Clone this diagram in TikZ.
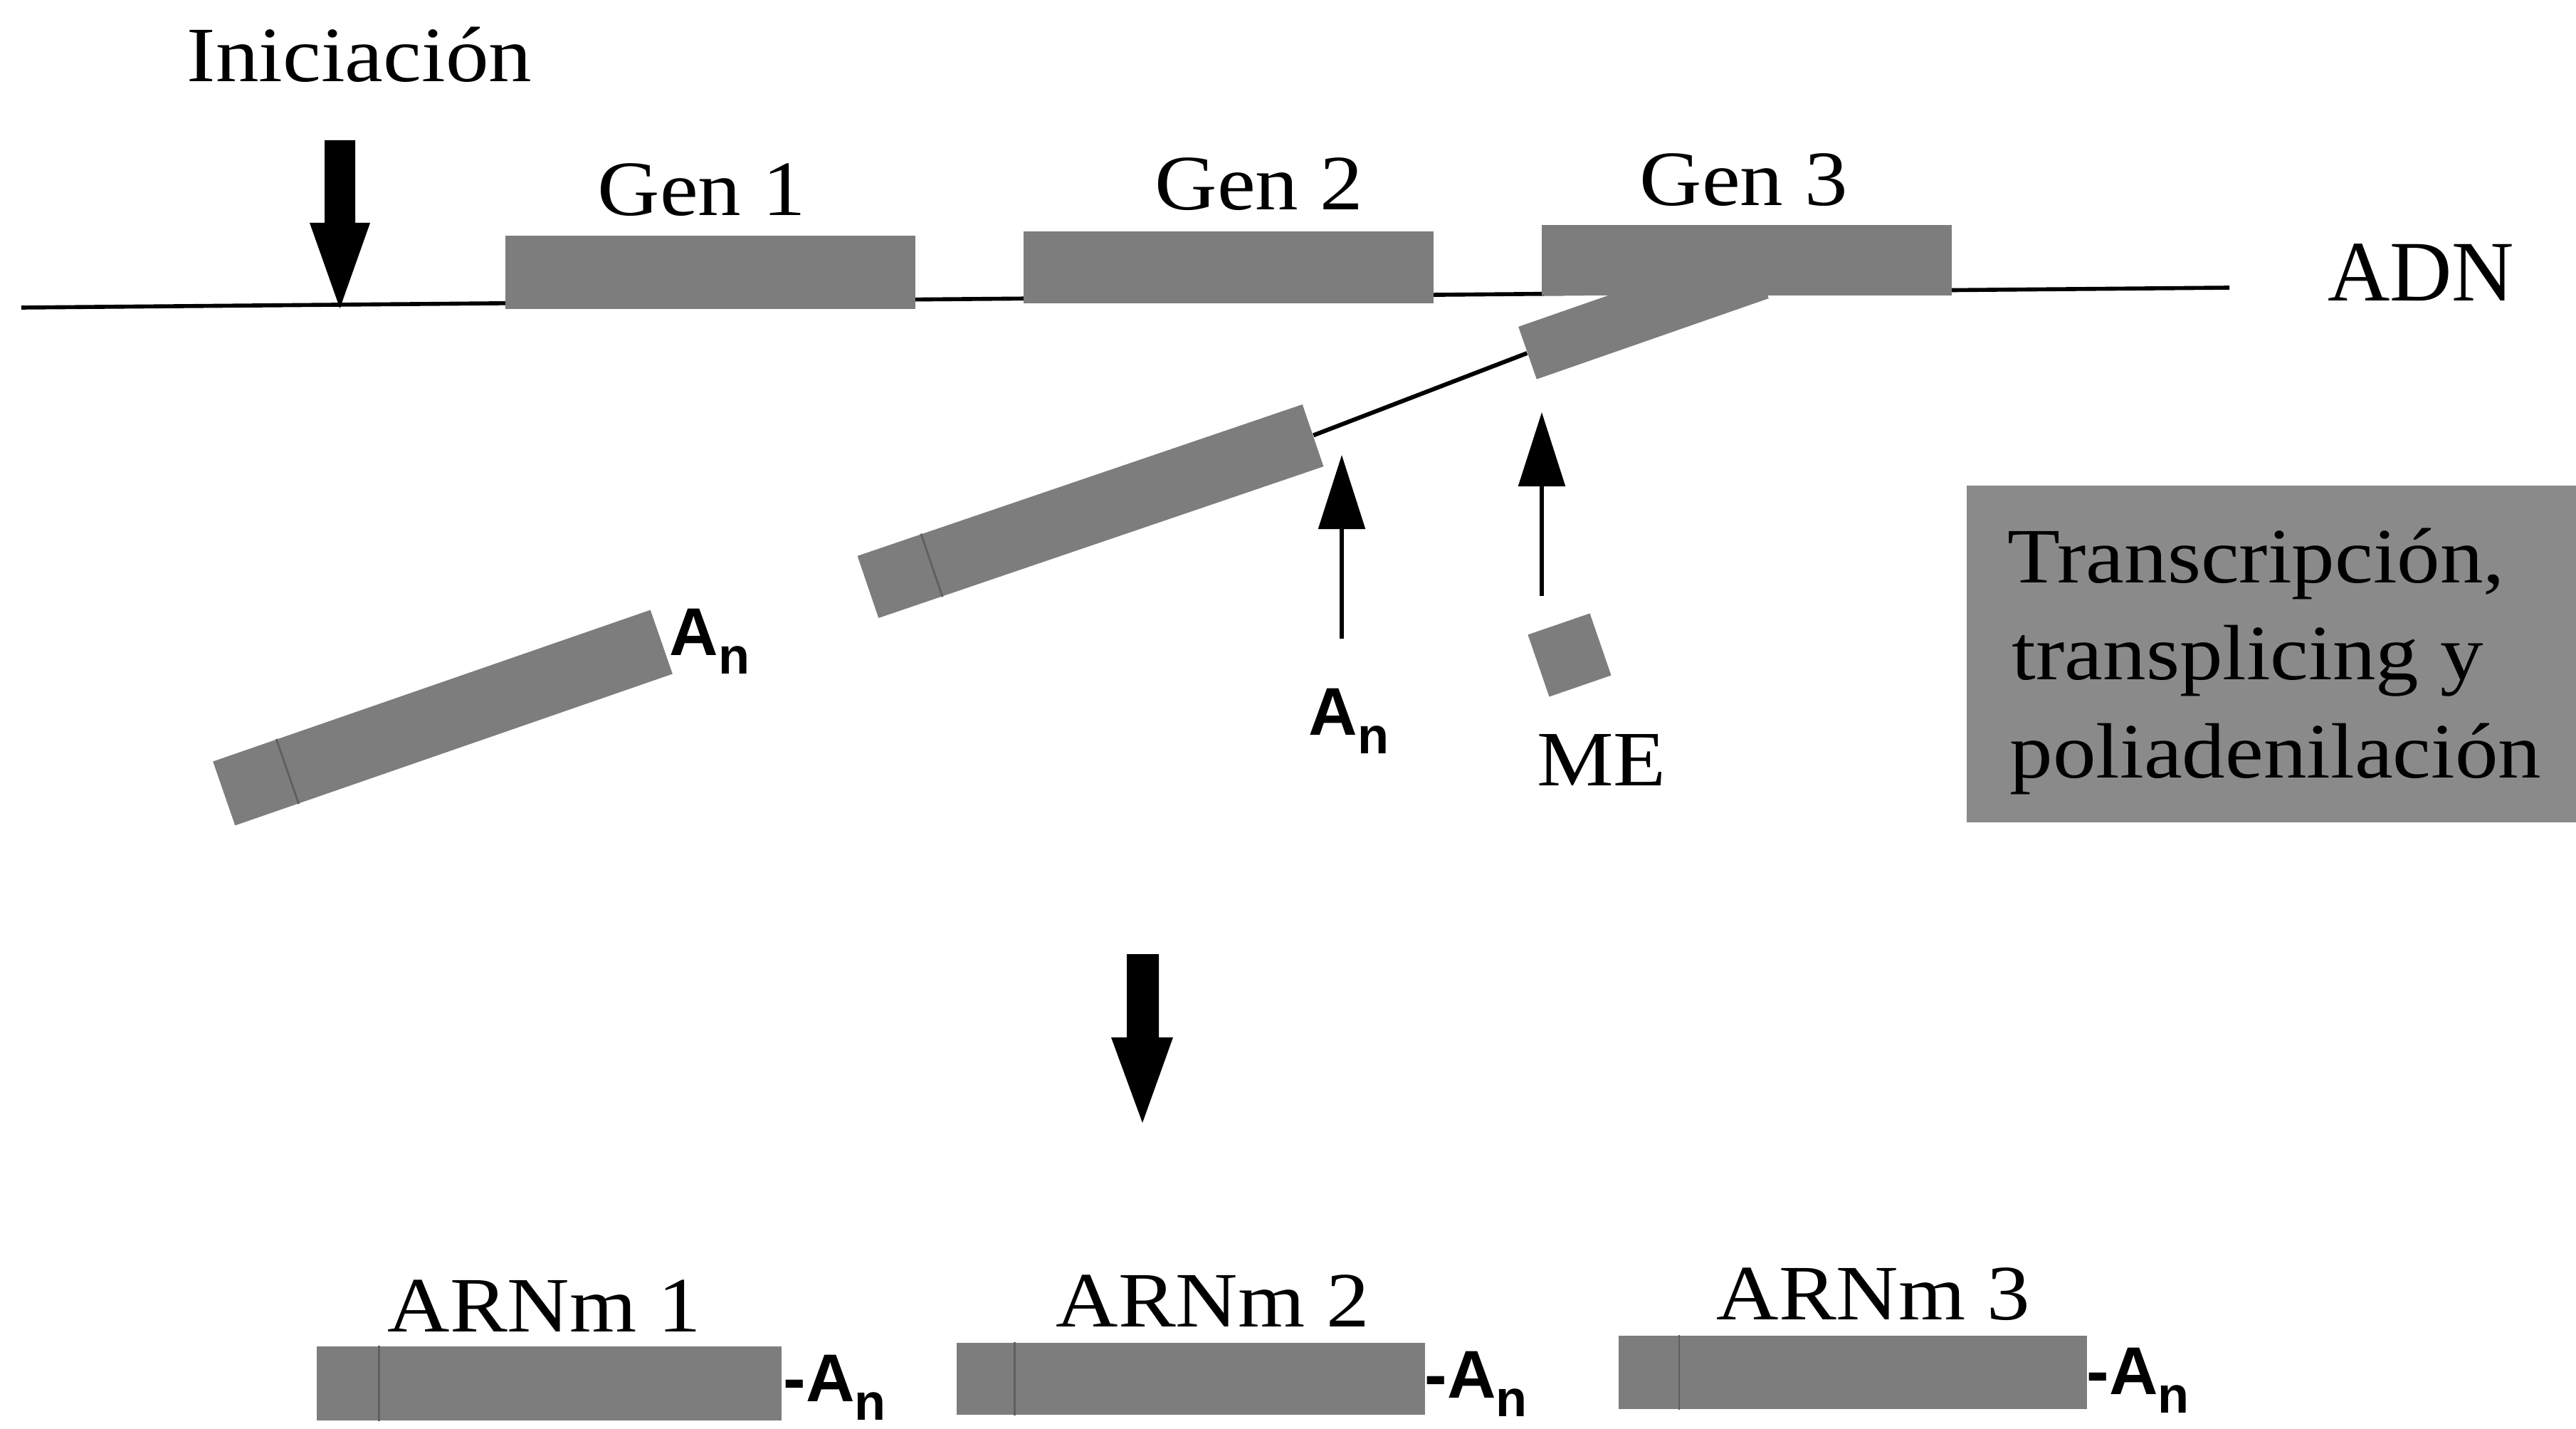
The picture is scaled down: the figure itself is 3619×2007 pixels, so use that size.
\documentclass[tikz,border=0pt]{standalone}
\usepackage{fontspec}
\setmainfont{Liberation Serif}[FakeStretch=1.1]
\newfontfamily\ansf{Liberation Sans}
\newfontfamily\serifwide{Liberation Serif}
\usetikzlibrary{arrows.meta,calc}
\definecolor{genegray}{RGB}{125,125,125}
\definecolor{boxgray}{RGB}{138,138,138}
\definecolor{capline}{RGB}{95,95,95}
\newcommand{\polyAtxt}{A\raisebox{-0.28em}{\fontsize{20.5}{22}\selectfont n}}
\begin{document}
\begin{tikzpicture}[x=0.01cm,y=-0.01cm,
  gene/.style={rectangle, fill=genegray, draw=none, inner sep=0pt},
  lbl/.style={font=\fontsize{31.3}{36}\selectfont, inner sep=0pt, anchor=base},
  pa/.style={font=\fontsize{27}{30}\selectfont\ansf\bfseries, inner sep=0pt, anchor=base west},
  dnaline/.style={line width=1.6pt, draw=black},
  rnaline/.style={line width=1.7pt, draw=black},
  caplinestyle/.style={line width=0.8pt, draw=capline},
  uparrow/.style={line width=1.6pt, -{Triangle[length=1.04cm,width=0.65cm]}},
  blockarrow/.style={fill=black, draw=none}]
\fill[white] (0,0) rectangle (3619,2007);
\useasboundingbox (0,0) rectangle (3619,2007);

% DNA
\coordinate (dnaL) at (30,432);
\coordinate (dnaR) at (3132,404);
\draw[dnaline] (dnaL) -- (dnaR);
\node[gene, minimum width=5.76cm, minimum height=1.03cm] (g1) at (998,382.5) {};
\node[gene, minimum width=5.76cm, minimum height=1.01cm] (g2) at (1726,375.5) {};
\node[gene, minimum width=5.76cm, minimum height=0.99cm] (g3) at (2454,365.5) {};
\node[lbl] (lg1) at (986,303) {Gen 1};
\node[lbl] (lg2) at (1769,295) {Gen 2};
\node[lbl] (lg3) at (2450,289) {Gen 3};
\node[lbl, font=\fontsize{34.4}{38}\selectfont\serifwide] (adn) at (3401,423) {ADN};

% initiation
\node[lbl] (ini) at (505,115) {Iniciación};
\fill[blockarrow] (456,197) -- (499,197) -- (499,313) -- (520,313) -- (477.5,433) -- (435,313) -- (456,313) -- cycle;

% transcripts
\node[gene, rotate=19.2, minimum width=3.45cm, minimum height=0.78cm] (s3) at (2309,439) {};
\node[gene, rotate=18.8, minimum width=6.6cm, minimum height=0.92cm] (t2) at (1532,718) {};
\node[gene, rotate=19.1, minimum width=6.5cm, minimum height=0.95cm] (t1) at (622,1008) {};
\draw[caplinestyle] ($(t2.south west)!0.144!(t2.south east)$) -- ($(t2.north west)!0.144!(t2.north east)$);
\draw[caplinestyle] ($(t1.south west)!0.146!(t1.south east)$) -- ($(t1.north west)!0.146!(t1.north east)$);
\draw[rnaline] (t2.east) -- (s3.west);
\node[pa] (pa0) at (940,920) {\polyAtxt};

% splice arrows
\coordinate (a1s) at (1885,897);
\coordinate (a1e) at (1885,639);
\coordinate (a2s) at (2166,837);
\coordinate (a2e) at (2166,579);
\draw[uparrow] (a1s) -- (a1e);
\draw[uparrow] (a2s) -- (a2e);
\node[pa] (paA) at (1838,1032) {\polyAtxt};
\node[gene, rotate=19, minimum size=0.92cm] (me) at (2205,920) {};
\node[lbl] (melbl) at (2250,1103) {ME};

% process box
\node[rectangle, fill=boxgray, inner sep=0pt, minimum width=8.56cm, minimum height=4.73cm] (tb) at (3191,918.5) {};
\node[lbl, anchor=base west] (tb1) at (2820,818) {Transcripción,};
\node[lbl, anchor=base west] (tb2) at (2826,954) {transplicing y};
\node[lbl, anchor=base west] (tb3) at (2823,1092) {poliadenilación};

% central arrow
\fill[blockarrow] (1583,1340) -- (1628,1340) -- (1628,1457) -- (1648,1457) -- (1605,1577) -- (1561,1457) -- (1583,1457) -- cycle;

% mRNAs
\node[gene, minimum width=6.53cm, minimum height=1.04cm] (m1) at (771.5,1943) {};
\node[gene, minimum width=6.58cm, minimum height=1.01cm] (m2) at (1673,1936.5) {};
\node[gene, minimum width=6.58cm, minimum height=1.03cm] (m3) at (2603,1927.5) {};
\draw[caplinestyle] ($(m1.south west)!0.135!(m1.south east)$) -- ($(m1.north west)!0.135!(m1.north east)$);
\draw[caplinestyle] ($(m2.south west)!0.125!(m2.south east)$) -- ($(m2.north west)!0.125!(m2.north east)$);
\draw[caplinestyle] ($(m3.south west)!0.13!(m3.south east)$) -- ($(m3.north west)!0.13!(m3.north east)$);
\node[lbl] (lm1) at (765,1870) {ARNm 1};
\node[lbl] (lm2) at (1704,1863) {ARNm 2};
\node[lbl] (lm3) at (2632,1853) {ARNm 3};
\node[pa] (pa1) at (1100,1968) {-\polyAtxt};
\node[pa] (pa2) at (2001,1963) {-\polyAtxt};
\node[pa] (pa3) at (2931,1958) {-\polyAtxt};
\end{tikzpicture}
\end{document}
